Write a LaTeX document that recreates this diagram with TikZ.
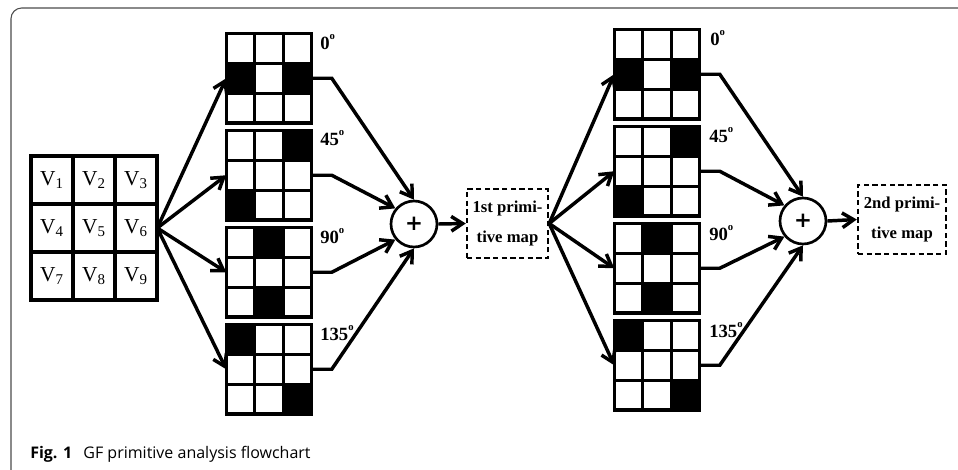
\documentclass[tikz,border=0pt]{standalone}
\usepackage{fontspec}
\setmainfont{Liberation Serif}
\newfontfamily\capfont{Open Sans}
\newfontfamily\plusfont{DejaVu Sans}
\usetikzlibrary{arrows.meta,fit}
\newcommand\degsup{\raisebox{1.1ex}{\fontsize{8}{8}\selectfont o}}
\tikzset{
  gridl/.style={line width=2.3pt, line cap=rect},
  conn/.style={line width=2.6pt, line join=miter, -{Straight Barb[length=8.5pt,width=11pt,line width=2.6pt]}},
  lab/.style={font=\bfseries\fontsize{14}{14}\selectfont, inner sep=0pt, anchor=base west},
  vtext/.style={font=\fontsize{16}{16}\selectfont, inner sep=0pt},
  dbox/.style={draw, dashed, line width=1.8pt, dash pattern=on 4pt off 2.5pt, align=center, inner sep=0pt,
               font=\bfseries\fontsize{12.5}{23}\selectfont},
  plusnode/.style={circle, draw, line width=2pt, minimum size=34.5pt, inner sep=0pt,
               font=\plusfont\bfseries\fontsize{16}{16}\selectfont},
  frame/.style={draw=black!70, line width=0.8pt, rounded corners=8pt}
}
% name, x, y (line centres), black cells; block 85 x 89.5
\newcommand\filt[4]{%
  \node[fit={(#2,#3) ({#2+85},{#3+89.5})}, inner sep=0pt] (#1) {};
  \foreach \c/\r in {#4} \fill ({#2+\c*85/3},{#3+\r*89.5/3}) rectangle ++(85/3,89.5/3);
  \foreach \i in {0,1,2,3} {\draw[gridl] ({#2+\i*85/3},#3) -- ++(0,89.5); \draw[gridl] (#2,{#3+\i*89.5/3}) -- ++(85,0);}
}
\begin{document}
\begin{tikzpicture}[x=0.75pt,y=-0.75pt]
\useasboundingbox (0,0) rectangle (958,469);
\draw[frame] (970,8) -- (11,8) -- (11,480);
% input grid
\node[fit={(31,156) (157,300)}, inner sep=0pt] (vg) {};
\foreach \i in {0,1,2,3} {\draw[gridl] ({31+\i*126/3},156) -- ++(0,144); \draw[gridl] (31,{156+\i*144/3}) -- ++(126,0);}
\foreach \n [count=\k from 0] in {1,...,9} {
  \pgfmathtruncatemacro\cc{mod(\k,3)}\pgfmathtruncatemacro\rr{div(\k,3)}
  \node[vtext] (v\n) at ({31+(\cc+0.5)*126/3},{156+(\rr+0.5)*144/3}) {V\textsubscript{\n}};
}
% stage 1 filters
\filt{f1a}{226.5}{33.5}{0/1,2/1}
\filt{f1b}{226.5}{130.5}{2/0,0/2}
\filt{f1c}{226.5}{227.5}{1/0,1/2}
\filt{f1d}{226.5}{324.5}{0/0,2/2}
\node[lab] (l1a) at (320,49) {0\degsup};
\node[lab] (l1b) at (320,145) {45\degsup};
\node[lab] (l1c) at (320,243) {90\degsup};
\node[lab] (l1d) at (320,340) {135\degsup};
\node[plusnode] (p1) at (414,224) {+};
\node[dbox, minimum width=60.75pt, minimum height=51.75pt] (m1) at (507.5,223.5) {1st primi-\\tive map};
% stage 2 filters
\filt{f2a}{614.5}{29.5}{0/1,2/1}
\filt{f2b}{614.5}{126.5}{2/0,0/2}
\filt{f2c}{614.5}{223.5}{1/0,1/2}
\filt{f2d}{614.5}{320.5}{0/0,2/2}
\node[lab] (l2a) at (710,45) {0\degsup};
\node[lab] (l2b) at (709,142) {45\degsup};
\node[lab] (l2c) at (709,240) {90\degsup};
\node[lab] (l2d) at (709,337) {135\degsup};
\node[plusnode] (p2) at (803,221) {+};
\node[dbox, minimum width=66pt, minimum height=51.75pt] (m2) at (902,219.5) {2nd primi-\\tive map};
% connectors stage 1
\foreach \f in {f1a,f1b,f1c,f1d} \draw[conn] (vg.east) -- (\f.west);
\draw[conn] (f1a.east) -- ++(20,0) -- (p1.north);
\draw[conn] (f1b.east) -- ++(20,0) -- (p1.140);
\draw[conn] (f1c.east) -- ++(20,0) -- (p1.220);
\draw[conn] (f1d.east) -- ++(20,0) -- (p1.south);
\draw[conn] (p1.east) -- (m1.west);
% connectors stage 2
\foreach \f in {f2a,f2b,f2c,f2d} \draw[conn] (m1.east) -- (\f.west);
\draw[conn] (f2a.east) -- ++(20,0) -- (p2.north);
\draw[conn] (f2b.east) -- ++(20,0) -- (p2.140);
\draw[conn] (f2c.east) -- ++(20,0) -- (p2.220);
\draw[conn] (f2d.east) -- ++(20,0) -- (p2.south);
\draw[conn] (p2.east) -- (m2.west);
% caption
\node[anchor=base west, inner sep=0pt, font=\capfont\fontsize{12}{14}\selectfont] (cap) at (30,458) {\textbf{Fig. 1}\hspace{0.7em}GF primitive analysis flowchart};
\end{tikzpicture}
\end{document}
